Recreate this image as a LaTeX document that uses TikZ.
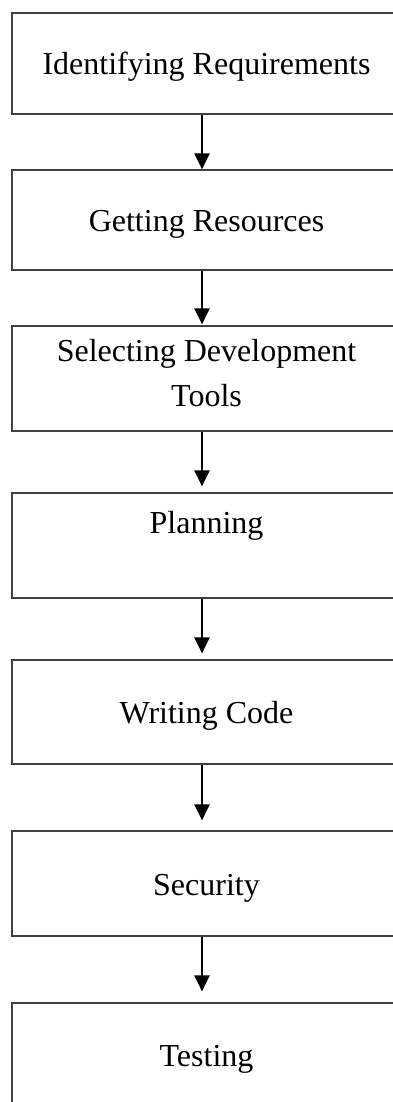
\documentclass[tikz,border=0pt]{standalone}
\usepackage{fontspec}
\setmainfont{Liberation Serif}
\usetikzlibrary{arrows.meta}
\begin{document}
\begin{tikzpicture}[x=1pt,y=-1pt,
  stagebox/.style={draw=black!75, line width=1.2pt, rectangle, inner sep=0pt,
    minimum width=389pt},
  stagetext/.style={anchor=base, inner sep=0pt, align=center,
    font=\fontsize{32}{45}\selectfont},
  flow/.style={draw=black, line width=2.4pt,
    -{Triangle[width=15pt,length=16pt]}}
]
\useasboundingbox (0,0) rectangle (393,1102);
\clip (0,0) rectangle (393,1102);
\fill[white] (0,0) rectangle (393,1102);

% boxes: left edge at 12, right edge beyond the page
\node[stagebox, minimum height=101pt] (b1) at (206.5,63.5)  {};
\node[stagebox, minimum height=100pt] (b2) at (206.5,220)   {};
\node[stagebox, minimum height=105pt] (b3) at (206.5,378.5) {};
\node[stagebox, minimum height=105pt] (b4) at (206.5,545.5) {};
\node[stagebox, minimum height=104pt] (b5) at (206.5,712)   {};
\node[stagebox, minimum height=105pt] (b6) at (206.5,883.5) {};
\node[stagebox, minimum height=107pt] (b7) at (206.5,1056.5) {};

% labels (base anchor of a two-line label sits on its last line)
\node[stagetext] (t1) at (206.5,75)    {Identifying Requirements};
\node[stagetext] (t2) at (206.5,231.7) {Getting Resources};
\node[stagetext] (t3) at (206.5,406.7) {Selecting Development\\Tools};
\node[stagetext] (t4) at (206.5,533.3) {Planning};
\node[stagetext] (t5) at (206.5,723.3) {Writing Code};
\node[stagetext] (t6) at (206.5,895)   {Security};
\node[stagetext] (t7) at (206.5,1066.7){Testing};

% connectors
\draw[flow] ([xshift=-4.5pt]b1.south) -- ([xshift=-4.5pt]b2.north);
\draw[flow] ([xshift=-4.5pt]b2.south) -- ([xshift=-4.5pt,yshift=1pt]b3.north);
\draw[flow] ([xshift=-4.5pt]b3.south) -- ([xshift=-4.5pt,yshift=6pt]b4.north);
\draw[flow] ([xshift=-4.5pt]b4.south) -- ([xshift=-4.5pt,yshift=6pt]b5.north);
\draw[flow] ([xshift=-4.5pt]b5.south) -- ([xshift=-4.5pt,yshift=10pt]b6.north);
\draw[flow] ([xshift=-4.5pt]b6.south) -- ([xshift=-4.5pt,yshift=11pt]b7.north);
\end{tikzpicture}
\end{document}
